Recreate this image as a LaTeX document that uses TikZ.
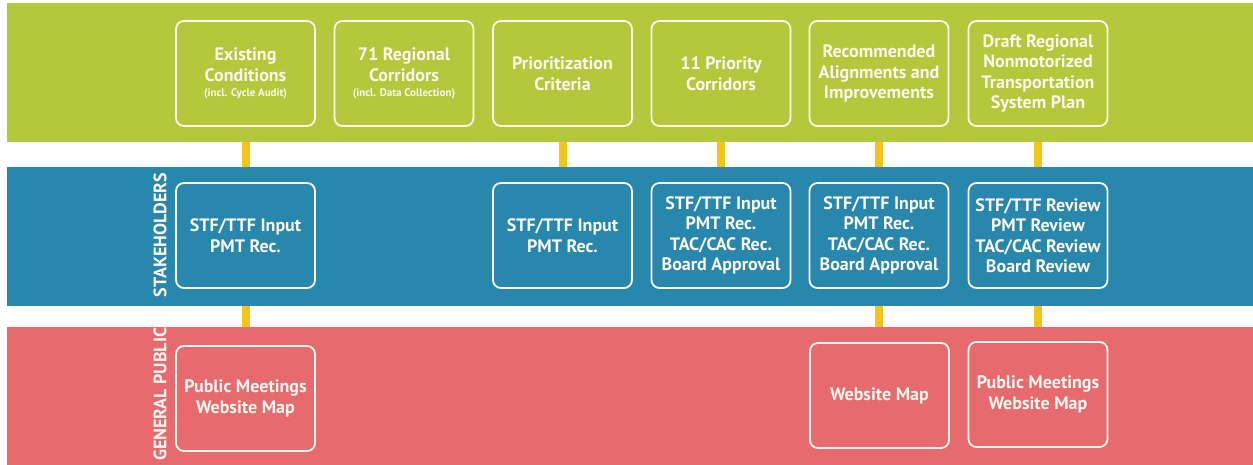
\documentclass[tikz,border=0pt]{standalone}
\usepackage{fontspec}
\setmainfont{PT Sans}
\definecolor{bgreen}{HTML}{B3C93B}
\definecolor{bblue}{HTML}{2787AD}
\definecolor{bred}{HTML}{E76B6E}
\definecolor{cyel}{HTML}{F2C518}
\definecolor{ctext}{HTML}{FBF7EE}
\newcommand{\subnote}[1]{{\fontsize{11}{12}\selectfont #1}}
\tikzset{
  band/.style={draw=none,inner sep=0pt,outer sep=0pt,anchor=north west},
  stepbox/.style={draw=ctext,line width=1.8pt,rounded corners=8pt,minimum width=139pt,minimum height=105pt,inner sep=0pt,outer sep=0pt,align=center,text=ctext,font=\bfseries\fontsize{18}{20.5}\selectfont},
  conn/.style={draw=cyel,line width=8pt},
  sidelabel/.style={rotate=90,text=ctext,font=\bfseries\fontsize{18}{18}\selectfont,inner sep=0pt}
}
\begin{document}
\begin{tikzpicture}[x=1pt,y=-1pt]
\useasboundingbox (0,0) rectangle (1253,464);
\begin{scope}
\clip (0,0) rectangle (1253,464);
\fill[white] (0,0) rectangle (1253,464);
\node[band,fill=bgreen,minimum width=1246pt,minimum height=139pt] (gband) at (7,3) {};
\node[band,fill=bblue,minimum width=1246pt,minimum height=139pt] (bband) at (7,167) {};
\node[band,fill=bred,minimum width=1246pt,minimum height=140pt] (rband) at (7,327) {};
% green row
\node[stepbox] (g1) at (245.5,73.5) {Existing\\Conditions\\[-5pt]\subnote{(incl. Cycle Audit)}};
\node[stepbox] (g2) at (404,73.5) {71 Regional\\Corridors\\[-5pt]\subnote{(incl. Data Collection)}};
\node[stepbox] (g3) at (562.5,73.5) {Prioritization\\Criteria};
\node[stepbox] (g4) at (721,73.5) {11 Priority\\Corridors};
\node[stepbox] (g5) at (879,73.5) {Recommended\\Alignments and\\Improvements};
\node[stepbox] (g6) at (1038,73.5) {Draft Regional\\Nonmotorized\\Transportation\\System Plan};
% blue row
\node[stepbox] (s1) at (245.5,235.5) {STF/TTF Input\\PMT Rec.};
\node[stepbox] (s3) at (562.5,235.5) {STF/TTF Input\\PMT Rec.};
\node[stepbox] (s4) at (721,235.5) {STF/TTF Input\\PMT Rec.\\TAC/CAC Rec.\\Board Approval};
\node[stepbox] (s5) at (879,235.5) {STF/TTF Input\\PMT Rec.\\TAC/CAC Rec.\\Board Approval};
\node[stepbox] (s6) at (1038,235.5) {STF/TTF Review\\PMT Review\\TAC/CAC Review\\Board Review};
% red row
\node[stepbox] (p1) at (245.5,398.5) {Public Meetings\\Website Map};
\node[stepbox] (p5) at (879.5,395.5) {Website Map};
\node[stepbox] (p6) at (1038,394.5) {Public Meetings\\Website Map};
% side labels
\node[sidelabel] (lstake) at (160,235) {STAKEHOLDERS};
\node[sidelabel,anchor=east] (lpub) at (160,327.5) {GENERAL PUBLIC};
% connectors
\foreach \n in {g1,g3,g4,g5,g6} {
  \draw[conn] (\n.south |- gband.south) -- (\n.south |- bband.north);
}
\foreach \n in {s1,s5,s6} {
  \draw[conn] (\n.south |- bband.south) -- (\n.south |- rband.north);
}
\end{scope}
\end{tikzpicture}
\end{document}
